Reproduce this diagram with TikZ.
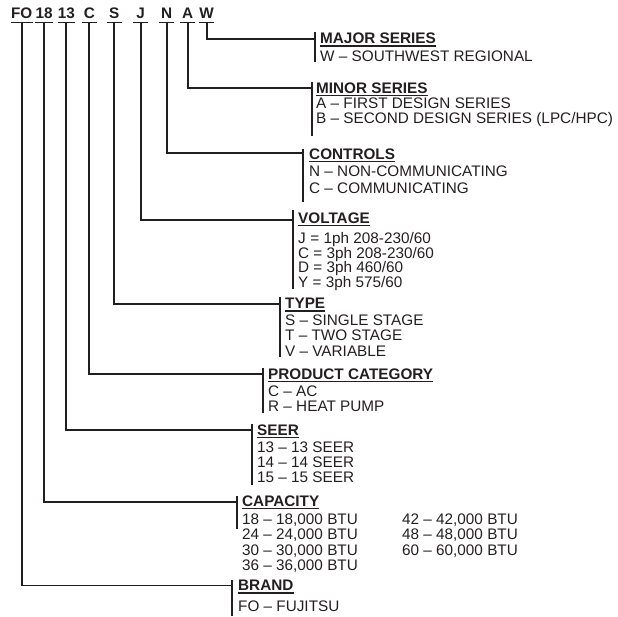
\documentclass[tikz,border=0pt]{standalone}
\usepackage{fontspec}
\setmainfont{Liberation Sans}
\definecolor{ink}{HTML}{231F20}
\begin{document}
\begin{tikzpicture}[x=1pt,y=1pt,
  code/.style={font=\fontsize{15.3}{15.3}\selectfont\bfseries, inner sep=0pt, minimum width=15pt, text depth=0pt, anchor=base, text=ink},
  ttl/.style={font=\fontsize{15.3}{15.3}\selectfont\bfseries, inner sep=0pt, text depth=0pt, anchor=base west, text=ink},
  itm/.style={font=\fontsize{15.3}{15.3}\selectfont, inner sep=0pt, anchor=base west, text=ink},
  conn/.style={draw=ink, line width=1.9pt},
  barline/.style={draw=ink, line width=1.9pt},
  uline/.style={draw=ink, line width=1.1pt}]
\useasboundingbox (0,0) rectangle (618,-616);

% codes
\node[code] (cFO) at (21.7,-18.3) {FO};
\node[code] (c18) at (44.1,-18.3) {18};
\node[code] (c13) at (66.3,-18.3) {13};
\node[code] (cC) at (89.3,-18.3) {C};
\node[code] (cS) at (114.2,-18.3) {S};
\node[code] (cJ) at (140.6,-18.3) {J};
\node[code] (cN) at (166.6,-18.3) {N};
\node[code] (cA) at (187.6,-18.3) {A};
\node[code] (cW) at (206.6,-18.3) {W};
\foreach \n in {cFO,c18,c13,cC,cS,cJ,cN,cA,cW}
  \draw[conn] ([yshift=-4pt]\n.south west) -- ([yshift=-4pt]\n.south east);

% MAJOR SERIES
\coordinate (bW) at (315,-39);
\coordinate (tW) at (315,-32);
\coordinate (eW) at (315,-62);
\draw[conn] ([yshift=-4pt]cW.south) |- (bW);
\draw[barline] (tW) -- (eW);
\node[ttl] (hMaj) at (320,-43.5) {MAJOR SERIES};
\draw[uline] ([yshift=-2.3pt]hMaj.south west) -- ([yshift=-2.3pt]hMaj.south east);
\node[itm] (iMaj1) at (320,-61) {W – SOUTHWEST REGIONAL};

% MINOR SERIES
\coordinate (bA) at (311.7,-88);
\coordinate (tA) at (311.7,-82);
\coordinate (eA) at (311.7,-136);
\draw[conn] ([yshift=-4pt]cA.south) |- (bA);
\draw[barline] (tA) -- (eA);
\node[ttl] (hMin) at (316,-93.3) {MINOR SERIES};
\draw[uline] ([yshift=-2.3pt]hMin.south west) -- ([yshift=-2.3pt]hMin.south east);
\node[itm] (iMin1) at (316,-108.5) {A – FIRST DESIGN SERIES};
\node[itm] (iMin2) at (316,-123.5) {B – SECOND DESIGN SERIES (LPC/HPC)};

% CONTROLS
\coordinate (bN) at (303.3,-153.3);
\coordinate (tN) at (303.3,-149);
\coordinate (eN) at (303.3,-202);
\draw[conn] ([yshift=-4pt]cN.south) |- (bN);
\draw[barline] (tN) -- (eN);
\node[ttl] (hCon) at (309,-159) {CONTROLS};
\draw[uline] ([yshift=-2.3pt]hCon.south west) -- ([yshift=-2.3pt]hCon.south east);
\node[itm] (iCon1) at (309,-176.5) {N – NON-COMMUNICATING};
\node[itm] (iCon2) at (309,-193) {C – COMMUNICATING};

% VOLTAGE
\coordinate (bJ) at (293.3,-220);
\coordinate (tJ) at (293.3,-210);
\coordinate (eJ) at (293.3,-289);
\draw[conn] ([yshift=-4pt]cJ.south) |- (bJ);
\draw[barline] (tJ) -- (eJ);
\node[ttl] (hVol) at (298,-223) {VOLTAGE};
\draw[uline] ([yshift=-2.3pt]hVol.south west) -- ([yshift=-2.3pt]hVol.south east);
\node[itm] (iVol1) at (298,-243.5) {\makebox[0.8em][l]{J}= 1ph 208-230/60};
\node[itm] (iVol2) at (298,-258) {C = 3ph 208-230/60};
\node[itm] (iVol3) at (298,-272.5) {D = 3ph 460/60};
\node[itm] (iVol4) at (298,-287) {Y = 3ph 575/60};

% TYPE
\coordinate (bS) at (280,-304);
\coordinate (tS) at (280,-297);
\coordinate (eS) at (280,-357);
\draw[conn] ([yshift=-4pt]cS.south) |- (bS);
\draw[barline] (tS) -- (eS);
\node[ttl] (hTyp) at (285,-308.5) {TYPE};
\draw[uline] ([yshift=-2.3pt]hTyp.south west) -- ([yshift=-2.3pt]hTyp.south east);
\node[itm] (iTyp1) at (285,-325) {S – SINGLE STAGE};
\node[itm] (iTyp2) at (285,-340.5) {T – TWO STAGE};
\node[itm] (iTyp3) at (285,-356.5) {V – VARIABLE};

% PRODUCT CATEGORY
\coordinate (bC) at (263.3,-374.3);
\coordinate (tC) at (263.3,-368);
\coordinate (eC) at (263.3,-413);
\draw[conn] ([yshift=-4pt]cC.south) |- (bC);
\draw[barline] (tC) -- (eC);
\node[ttl] (hPro) at (268,-379) {PRODUCT CATEGORY};
\draw[uline] ([yshift=-2.3pt]hPro.south west) -- ([yshift=-2.3pt]hPro.south east);
\node[itm] (iPro1) at (268,-396) {C – AC};
\node[itm] (iPro2) at (268,-411) {R – HEAT PUMP};

% SEER
\coordinate (b13) at (251.7,-430);
\coordinate (t13) at (251.7,-424);
\coordinate (e13) at (251.7,-485);
\draw[conn] ([yshift=-4pt]c13.south) |- (b13);
\draw[barline] (t13) -- (e13);
\node[ttl] (hSee) at (257,-435) {SEER};
\draw[uline] ([yshift=-2.3pt]hSee.south west) -- ([yshift=-2.3pt]hSee.south east);
\node[itm] (iSee1) at (257,-452) {13 – 13 SEER};
\node[itm] (iSee2) at (257,-467) {14 – 14 SEER};
\node[itm] (iSee3) at (257,-482) {15 – 15 SEER};

% CAPACITY
\coordinate (b18) at (236.7,-501.7);
\coordinate (t18) at (236.7,-496);
\coordinate (e18) at (236.7,-529);
\draw[conn] ([yshift=-4pt]c18.south) |- (b18);
\draw[barline] (t18) -- (e18);
\node[ttl] (hCap) at (242,-506) {CAPACITY};
\draw[uline] ([yshift=-2.3pt]hCap.south west) -- ([yshift=-2.3pt]hCap.south east);
\node[itm] (iCap1) at (242,-524) {18 – 18,000 BTU};
\node[itm] (iCap2) at (242,-539.5) {24 – 24,000 BTU};
\node[itm] (iCap3) at (242,-555) {30 – 30,000 BTU};
\node[itm] (iCap4) at (242,-570) {36 – 36,000 BTU};
\node[itm] (iCap5) at (402,-524) {42 – 42,000 BTU};
\node[itm] (iCap6) at (402,-539.5) {48 – 48,000 BTU};
\node[itm] (iCap7) at (402,-555) {60 – 60,000 BTU};

% BRAND
\coordinate (bFO) at (232.3,-585.5);
\coordinate (tFO) at (232.3,-580);
\coordinate (eFO) at (232.3,-616);
\draw[conn] ([yshift=-4pt]cFO.south) |- (bFO);
\draw[barline] (tFO) -- (eFO);
\node[ttl] (hBra) at (238,-590.5) {BRAND};
\draw[uline] ([yshift=-2.3pt]hBra.south west) -- ([yshift=-2.3pt]hBra.south east);
\node[itm] (iBra1) at (238,-611) {FO – FUJITSU};
\end{tikzpicture}
\end{document}
